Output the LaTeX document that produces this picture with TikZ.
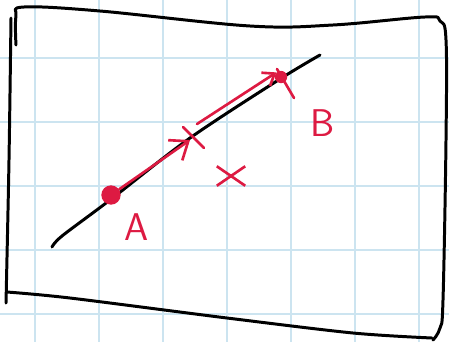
\documentclass[tikz,border=0pt]{standalone}
\usepackage{tikz}
\usetikzlibrary{arrows.meta, shapes.misc}
\usepackage{xcolor}
\definecolor{penred}{RGB}{221, 26, 66}
\definecolor{gridblue}{RGB}{204, 228, 240}

\begin{document}
\begin{tikzpicture}[
    x=0.02cm, y=-0.02cm,
    ink/.style={line width=1.7pt, line cap=round, line join=round},
    redink/.style={ink, draw=penred, line width=1.5pt},
    arrow/.style={redink, -{Straight Barb[length=9pt, width=14pt]}},
    dot/.style={circle, fill=penred, inner sep=0pt},
    tag/.style={text=penred, inner sep=0pt, font=\sffamily\fontsize{22}{22}\selectfont},
  ]
  \useasboundingbox (0,0) rectangle (449,342);
  \fill[white] (0,0) rectangle (449,342);
  \foreach \gx in {35,99,...,419}
    \draw[gridblue, line width=0.6pt] (\gx,0) -- (\gx,342);
  \foreach \gy in {58,122,...,314}
    \draw[gridblue, line width=0.6pt] (0,\gy) -- (449,\gy);

  \draw[ink] plot[smooth, tension=0.6] coordinates {(16,45) (16,16) (24,7) (100,11) (250,26) (333,25) (425,17) (440,21) (446,40) (446,140) (443,300) (440,328) (433,340)};
  \draw[ink] plot[smooth] coordinates {(11,18) (9,160) (6,303)};
  \draw[ink] plot[smooth] coordinates {(7,292) (70,298) (227,318) (353,333) (432,338)};
  \draw[ink] plot[smooth] coordinates {(52,247) (62,236) (110,200) (190,138) (280,79) (320,55)};

  \node[dot, minimum size=11pt] (A) at (111,195) {};
  \node[dot, minimum size=7pt] (B) at (281,77) {};
  \coordinate (M) at (190,140);
  \coordinate (M2) at (197,124);
  \node[tag] (labA) at (137,227) {A};
  \node[tag] (labB) at (323,123) {B};
  \node[cross out, draw=penred, line width=1.5pt, inner sep=0pt,
        minimum width=14.7pt, minimum height=9.6pt] (X) at (231,176) {};

  \draw[redink] (183,127) -- (204,148);
  \draw[redink] (277,69) -- (294,98);
  \draw[arrow] (A) -- (M);
  \draw[arrow, -{Straight Barb[length=6pt, width=9pt]}] (M2) -- (B.north west);
\end{tikzpicture}
\end{document}
